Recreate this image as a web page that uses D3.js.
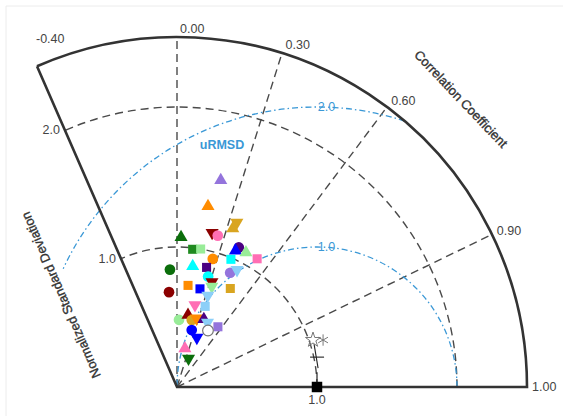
<!DOCTYPE html>
<html>
<head>
<meta charset="utf-8">
<script src="https://cdn.jsdelivr.net/npm/d3@7"></script>
<style>
  body { margin: 0; background: #fff; }
  text { font-family: "Liberation Sans", Arial, sans-serif; }
</style>
</head>
<body>
<svg class="taylor" width="563" height="416"></svg>
<script>
// model points: normalized std dev, correlation, group (colour), marker kind
var modelStd  = [1.51,1.31,1.25,1.20,1.13,1.12,1.07,0.99,1.00,1.09,1.06,1.08,1.08,0.99,0.95,0.87,0.88,0.84,0.90,0.94,
                 0.82,0.68,0.73,0.72,0.79,0.76,0.80,0.69,0.60,0.61,0.48,0.52,0.49,0.51,0.52,0.51,0.52,0.46,0.42,0.38,0.28,0.22];
var modelCorr = [0.207,0.169,0.342,0.332,0.222,0.260,0.027,0.113,0.169,0.405,0.394,0.456,0.530,0.389,0.269,0.129,0.240,-0.060,0.422,0.456,
                 0.271,-0.084,0.108,0.228,0.316,0.327,0.476,0.319,0.214,0.330,0.030,0.151,0.216,0.274,0.369,0.427,0.562,0.481,0.250,0.373,0.201,0.374];
var modelGroup = ["I","D","E","E","H","F","A","B","C","J","K","C","F","L","D","L","J","A","I","G",
                  "L","H","D","K","H","C","E","G","F","G","C","H","E","D","J","G","I","O","K","K","F","A"];
var modelKind = ["tri-up","tri-up","tri-down","tri-up","tri-down","circle","tri-up","square","square","circle","tri-up","tri-up","square","square","circle","tri-up","square","circle","circle","tri-down",
                 "circle","circle","square","square","tri-down","tri-down","square","tri-down","tri-down","square","circle","tri-up","circle","tri-down","tri-up","tri-down","square","circle","circle","tri-down","tri-up","tri-down"];

// reference / observation points
var refStd  = [1.00, 1.002, 1.023, 1.028, 1.096];
var refCorr = [1.00, 0.998, 0.978, 0.945, 0.952];
var refKind = ["square","vline","plus","star","asterisk"];

var corrTicks = [-0.4, 0.0, 0.3, 0.6, 0.9, 1.0];
var corrGrid  = [0.0, 0.3, 0.6, 0.9];
var stdTicks  = [1.0, 2.0];
var rmsTicks  = [1.0, 2.0];

var groups = ["A","B","C","D","E","F","G","H","I","J","K","L","O"];
var groupColors = ["#0b6e0b","#1f8a1f","#98ec98","#ff8c00","#d9a520","#ff6eb4","#8ccff8","#8b0000","#9474dc","#4b0082","#0000ff","#00ffff","#ffffff"];

var svg = d3.select(".taylor");

var ox = 177, oy = 387, stdMax = 2.5, corrMin = -0.4;
var r = d3.scaleLinear().domain([0, stdMax]).range([0, 350]);
var color = d3.scaleOrdinal().domain(groups).range(groupColors);
var thetaMax = Math.acos(corrMin);

function px(s, c){ return ox + r(s) * c; }
function py(s, c){ return oy - r(s) * Math.sqrt(Math.max(0, 1 - c*c)); }

function arcPath(cx, cy, rad, a0, a1){
  var p = d3.path();
  p.moveTo(cx + rad*Math.cos(a0), cy - rad*Math.sin(a0));
  p.arc(cx, cy, rad, -a0, -a1, true);
  return p.toString();
}

// faint frame
svg.append("line").attr("x1",6).attr("y1",6).attr("x2",563).attr("y2",6)
    .style("stroke","#ececec").style("stroke-width",1);
svg.append("line").attr("x1",6).attr("y1",6).attr("x2",6).attr("y2",416)
    .style("stroke","#ececec").style("stroke-width",1);

// std dev grid arcs
svg.selectAll(".std-arc").data(stdTicks).enter().append("path")
    .attr("class","std-arc")
    .attr("d", function(d){ return arcPath(ox, oy, r(d), 0, thetaMax); })
    .attr("fill","none")
    .style("stroke","#4a4a4a").style("stroke-width",1.4).style("stroke-dasharray","8,5");

// correlation spokes
svg.selectAll(".corr-line").data(corrGrid).enter().append("line")
    .attr("class","corr-line")
    .attr("x1", ox).attr("y1", oy)
    .attr("x2", function(d){ return px(stdMax, d); })
    .attr("y2", function(d){ return py(stdMax, d); })
    .style("stroke","#4a4a4a").style("stroke-width",1.4).style("stroke-dasharray","8,5");

// centred RMS difference contours
var rmsColor = "#3a98d6";
var rmsStart = {1: 0, 2: Math.acos((stdMax*stdMax - 4 - 1) / 4)};
var rmsEnd = {1: Math.PI, 2: 155 * Math.PI / 180};
svg.selectAll(".rms-arc").data(rmsTicks).enter().append("path")
    .attr("class","rms-arc")
    .attr("d", function(d){ return arcPath(px(1,1), oy, r(d), rmsStart[d], rmsEnd[d]); })
    .attr("fill","none")
    .style("stroke", rmsColor).style("stroke-width",1.3).style("stroke-dasharray","6,3,1.5,3");

svg.selectAll(".rms-label").data(rmsTicks).enter().append("text")
    .attr("class","rms-label")
    .attr("x", px(1,1) + 9.5)
    .attr("y", function(d){ return oy - Math.sqrt(r(d)*r(d) - 90); })
    .attr("text-anchor","middle").attr("dominant-baseline","central")
    .style("font-size","12.5px").style("fill", rmsColor)
    .text(function(d){ return d.toFixed(1); });

svg.append("text")
    .attr("x", 222).attr("y", 145)
    .attr("text-anchor","middle").attr("dominant-baseline","central")
    .style("font-size","12.5px").style("font-weight","bold").style("fill", rmsColor)
    .text("uRMSD");

// outer frame
var frame = d3.path();
frame.moveTo(px(stdMax, corrMin), py(stdMax, corrMin));
frame.lineTo(ox, oy);
frame.lineTo(ox + r(stdMax), oy);
frame.arc(ox, oy, r(stdMax), 0, -thetaMax, true);
svg.append("path")
    .attr("d", frame.toString())
    .attr("fill","none")
    .style("stroke","#333").style("stroke-width",2.6).style("stroke-linejoin","miter");

// correlation tick labels
svg.selectAll(".corr-label").data(corrTicks).enter().append("text")
    .attr("class","corr-label")
    .attr("x", function(d){ return d < 0 ? px(stdMax, d) - 1 : px(stdMax, d) + 3 + 2*d; })
    .attr("y", function(d){
      if(d < 0) return py(stdMax, d) - 27;
      return py(stdMax, d) - 8*Math.sqrt(1 - d*d);
    })
    .attr("dominant-baseline","central")
    .style("font-size","12.5px").style("fill","#444")
    .text(function(d){ return d.toFixed(2); });

// std tick labels along the left edge, and 1.0 on the x axis
svg.selectAll(".std-label").data(stdTicks).enter().append("text")
    .attr("class","std-label")
    .attr("x", function(d){ return px(d, corrMin) - 5; })
    .attr("y", function(d){ return py(d, corrMin); })
    .attr("text-anchor","end").attr("dominant-baseline","central")
    .style("font-size","12.5px").style("fill","#444")
    .text(function(d){ return d.toFixed(1); });

svg.append("text")
    .attr("x", px(1,1)).attr("y", oy + 13)
    .attr("text-anchor","middle").attr("dominant-baseline","central")
    .style("font-size","12.5px").style("fill","#444")
    .text("1.0");

// axis titles
svg.append("text")
    .attr("transform","translate(461,99) rotate(46.5)")
    .attr("text-anchor","middle").attr("dominant-baseline","central")
    .style("font-size","13px").style("fill","#333")
    .style("stroke","#333").style("stroke-width",0.35)
    .text("Correlation Coefficient");

svg.append("text")
    .attr("transform","translate(61,295) rotate(" + (-thetaMax*180/Math.PI) + ")")
    .attr("text-anchor","middle").attr("dominant-baseline","central")
    .style("font-size","13px").style("fill","#333")
    .style("stroke","#333").style("stroke-width",0.35)
    .text("Normalized Standard Deviation");

// reference markers
var refSym = {square: d3.symbolSquare, plus: d3.symbolCross, star: d3.symbolStar, asterisk: d3.symbolAsterisk};
refStd.forEach(function(s, i){
  var k = refKind[i], x = px(s, refCorr[i]), y = py(s, refCorr[i]);
  if(k == "vline"){
    svg.append("line").attr("x1",x).attr("y1",y-6).attr("x2",x).attr("y2",y+4)
        .style("stroke","#222").style("stroke-width",1.2);
  }else if(k == "plus"){
    svg.append("line").attr("x1",x-7).attr("y1",y).attr("x2",x+7).attr("y2",y)
        .style("stroke","#222").style("stroke-width",1.1);
    svg.append("line").attr("x1",x-3).attr("y1",y-13).attr("x2",x+1).attr("y2",y+11)
        .style("stroke","#222").style("stroke-width",1.1);
  }else if(k == "square"){
    svg.append("path").attr("d", d3.symbol().type(refSym[k]).size(110)())
        .attr("transform","translate(" + x + "," + y + ")")
        .attr("fill","#000");
  }else{
    svg.append("path").attr("d", d3.symbol().type(refSym[k]).size(k == "star" ? 70 : 90)())
        .attr("transform","translate(" + x + "," + y + ")")
        .attr("fill","none").style("stroke","#777").style("stroke-width",1);
  }
});

// model markers
var symFor = {"circle": d3.symbolCircle, "square": d3.symbolSquare, "tri-up": d3.symbolTriangle, "tri-down": d3.symbolTriangle};
var sizeFor = {"circle": 90, "square": 82, "tri-up": 74, "tri-down": 74};
var pts = modelStd.map(function(s, i){
  return {std: s, corr: modelCorr[i], group: modelGroup[i], kind: modelKind[i]};
});
svg.selectAll(".model").data(pts).enter().append("path")
    .attr("class","model")
    .attr("d", function(d){ return d3.symbol().type(symFor[d.kind]).size(sizeFor[d.kind])(); })
    .attr("transform", function(d){
      return "translate(" + px(d.std, d.corr) + "," + py(d.std, d.corr) + ")" + (d.kind == "tri-down" ? " rotate(180)" : "");
    })
    .attr("fill", function(d){ return color(d.group); })
    .style("stroke", function(d){ return d.group == "O" ? "#777" : "none"; })
    .style("stroke-width", 1.2);
</script>
</body>
</html>
